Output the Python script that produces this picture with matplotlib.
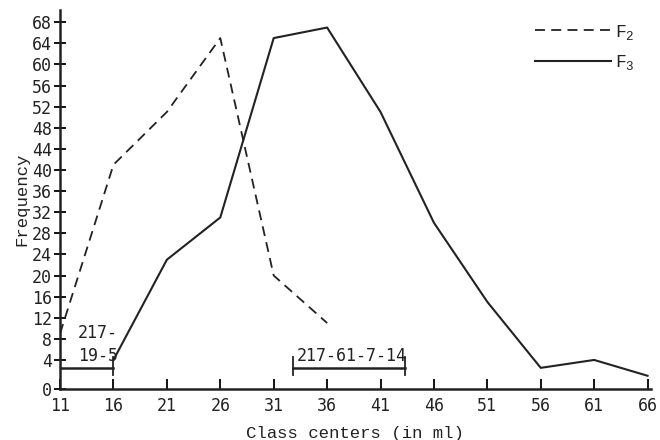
import matplotlib
matplotlib.use('Agg')
from matplotlib import pyplot as plt

# class centers and frequencies
centers_f2 = [11, 16, 21, 26, 31, 36]
freq_f2 = [9, 41, 51, 65, 20, 11]
centers_f3 = [16, 21, 26, 31, 36, 41, 46, 51, 56, 61, 66]
freq_f3 = [4, 23, 31, 65, 67, 51, 30, 15, 2.5, 4, 1]

xticks = list(range(11, 67, 5))
yticks = list(range(4, 69, 4))

# parent ranges marked under the curves
parents = ['217-\n19-5', '217-61-7-14']
parent_ranges = [[11, 16], [32.8, 43.3]]
parent_level = 2.5
Y_BOTTOM = -1.5

plt.rcParams['mathtext.fontset'] = 'custom'
plt.rcParams['mathtext.rm'] = 'Liberation Mono'
plt.rcParams['mathtext.it'] = 'Liberation Mono'

fig = plt.figure(figsize=(6.6, 4.4), dpi=100)
ax = fig.add_axes([0.091, 0.116, 0.895, 0.861])

ax.plot(centers_f2, freq_f2, color='#222', lw=1.3, ls=(0, (5.5, 3.5)), label='F$_2$')
ax.plot(centers_f3, freq_f3, color='#222', lw=1.5, label='F$_3$')

# parent bars
for i, (lo, hi) in enumerate(parent_ranges):
    ax.plot([lo, hi], [parent_level, parent_level], color='#222', lw=1.8)
    ends = [hi] if i == 0 else [lo, hi]
    for e in ends:
        ax.plot([e, e], [parent_level - 1.3, parent_level + 2.1], color='#222', lw=1.3)
ax.text(12.7, 3.0, parents[0], fontsize=12, family='DejaVu Sans Mono',
        linespacing=1.35, va='bottom', color='#222')
ax.text(33.2, 3.0, parents[1], fontsize=12, family='DejaVu Sans Mono',
        va='bottom', color='#222')

ax.set_xlim(11, 66.3)
ax.set_ylim(Y_BOTTOM, 70.3)
ax.set_xticks(xticks)
ax.set_yticks([Y_BOTTOM] + yticks)
ax.set_yticklabels(['0'] + [str(t) for t in yticks])
ax.tick_params(axis='x', direction='in', length=7, width=1.3, labelsize=12, pad=6)
ax.tick_params(axis='y', direction='inout', length=8, width=1.3, labelsize=12, pad=2)
for lab in ax.get_xticklabels() + ax.get_yticklabels():
    lab.set_family('DejaVu Sans Mono')
    lab.set_color('#222')

for s in ['top', 'right']:
    ax.spines[s].set_visible(False)
for s in ['left', 'bottom']:
    ax.spines[s].set_linewidth(1.8)
    ax.spines[s].set_color('#222')

ax.set_xlabel('Class centers (in ml)', family='Liberation Mono', fontsize=12.5,
              color='#222', labelpad=8)
ax.set_ylabel('Frequency', family='Liberation Mono', fontsize=12.5,
              color='#222', labelpad=2)

leg = ax.legend(loc='upper right', bbox_to_anchor=(1.0, 1.01), frameon=False,
                handlelength=4.2, handletextpad=0.2, labelspacing=0.65,
                prop={'family': 'Liberation Mono', 'size': 13})
for t in leg.get_texts():
    t.set_color('#222')

fig.savefig('out.png', dpi=100)
